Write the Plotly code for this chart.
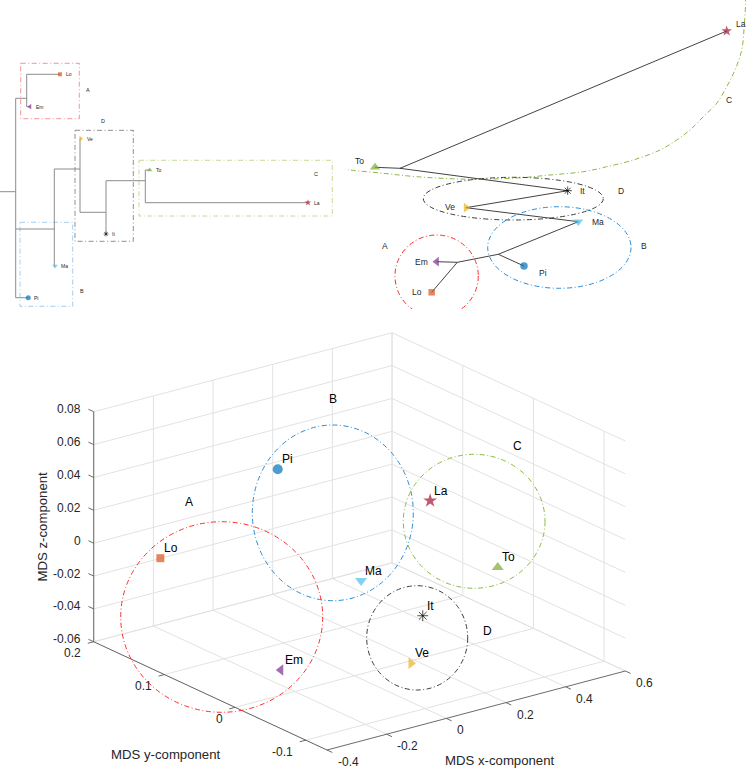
import math
import plotly.graph_objects as go

W, H = 746, 768
FONT = "Liberation Sans, Arial, Helvetica, sans-serif"
TXT = "#262626"

# ---------------- data ----------------
taxa = ['Lo', 'Em', 'Ve', 'It', 'To', 'La', 'Ma', 'Pi']
taxon_color = ['#D95319', '#7E2F8E', '#EDB120', '#000000', '#77AC30', '#A2142F', '#4DBEEE', '#0072BD']
taxon_symbol = ['square', 'triangle-left', 'triangle-right', 'asterisk-open',
                'triangle-up', 'star', 'triangle-down', 'circle']

# MDS coordinates (order of taxa)
mds_x = [-0.2951, -0.2470, -0.0473, 0.1105, 0.3619, 0.4907, 0.1407, -0.1385]
mds_y = [0.15, 0.00, -0.10, -0.05, -0.05, 0.10, 0.05, 0.05]
mds_z = [-0.0042, -0.0446, -0.0302, -0.0188, -0.0014, 0.0030, -0.0189, 0.0624]

x_ticks = [-0.4, -0.2, 0, 0.2, 0.4, 0.6]
x_tick_labels = ['-0.4', '-0.2', '0', '0.2', '0.4', '0.6']
y_ticks = [-0.1, 0, 0.1, 0.2]
y_tick_labels = ['-0.1', '0', '0.1', '0.2']
z_ticks = [-0.06, -0.04, -0.02, 0, 0.02, 0.04, 0.06, 0.08]
z_tick_labels = ['-0.06', '-0.04', '-0.02', '0', '0.02', '0.04', '0.06', '0.08']
x_lim = (-0.4, 0.6)
y_lim = (-0.13, 0.2)
z_lim = (-0.06, 0.08)

clusters = ['A', 'B', 'C', 'D']
cluster_color = ['rgb(255,45,45)', 'rgb(40,140,215)', 'rgb(140,185,70)', 'rgb(60,60,60)']
cluster_box_color = ['rgba(240,90,90,0.65)', 'rgba(90,165,225,0.55)', 'rgba(160,195,80,0.6)', 'rgba(70,70,70,0.6)']

# dendrogram (depth = branch position, row = leaf order position)
dendro_node = ['root', 'R', 'nA', 'Lo', 'Em', 'nBDC', 'Pi', 'nD', 'Ma', 'Ve', 'nIt', 'nC', 'It', 'To', 'La']
dendro_parent = [None, 'root', 'R', 'nA', 'nA', 'R', 'R', 'nBDC', 'nBDC', 'nD', 'nD', 'nIt', 'nIt', 'nC', 'nC']
dendro_depth = [0.0, 15.7, 26.7, 60.0, 30.0, 54.3, 28.3, 80.0, 55.0, 80.7, 106.0, 145.3, 106.0, 149.7, 308.0]
dendro_row = [191.7, 191.7, 98.3, 74.3, 106.7, 229.0, 297.7, 169.0, 266.0, 138.7, 212.3, 180.7, 234.0, 170.0, 202.7]
dendro_box = [(20.7, 79.3, 63.3, 118.7), (20.0, 72.7, 222.3, 306.3),
              (139.0, 332.3, 160.3, 216.0), (75.0, 133.3, 130.3, 241.3)]
dendro_box_label_xy = [(87.7, 90.0), (82.3, 290.7), (316.0, 174.0), (103.3, 120.7)]

# unrooted network
net_node = ['To', 'j1', 'La', 'It', 'Ve', 'Ma', 'j2', 'Pi', 'j3', 'Em', 'Lo']
net_x = [375.0, 400.0, 726.7, 567.7, 466.0, 578.3, 498.3, 524.0, 457.3, 436.7, 431.7]
net_y = [167.3, 168.3, 31.0, 190.7, 207.7, 221.7, 254.3, 266.0, 262.3, 261.7, 292.3]
net_edges = [('j1', 'To'), ('j1', 'La'), ('j1', 'It'), ('It', 'Ve'), ('Ve', 'Ma'),
             ('Ma', 'j2'), ('j2', 'Pi'), ('j2', 'j3'), ('j3', 'Em'), ('j3', 'Lo')]
net_ellipse = {'A': (395.0, 478.3, 235.0, 317.0), 'B': (487.7, 631.0, 206.7, 288.3),
               'D': (423.3, 603.3, 177.3, 220.0)}
net_arc_C_x = [340, 350, 383.3, 416.7, 466.7, 516.7, 550, 583.3, 606.7, 633.3, 660, 676.7,
               690, 703.3, 716.7, 726.7, 735, 741.7, 744.3, 745.5, 745.8]
net_arc_C_y = [168.5, 170, 173.3, 176.7, 179.2, 178, 175, 171.7, 166.7, 160, 150, 140,
               130, 116.7, 103.3, 86.7, 70, 50, 25, 5, -10]
net_label_xy = [(385.0, 246.0), (644.3, 245.7), (729.3, 100.0), (621.0, 191.0)]

# screen-space cluster rings of the MDS view
mds_ring = [(120.7, 322.7, 521.7, 712.3), (252.3, 413.3, 425.0, 600.7),
            (403.3, 545.0, 454.3, 588.3), (366.7, 467.7, 585.7, 690.0)]
mds_ring_label_xy = [(189.0, 501.7), (332.7, 399.3), (517.3, 446.0), (487.3, 630.7)]

# ---------------- view (orthographic, MATLAB-like) ----------------
AZ, EL = math.radians(-37.07), math.radians(20.52)
BOX = (373.9, 387.0, 245.6)
ORIGIN = (327.0, 750.0)
Xv = (BOX[0] * math.cos(AZ), -BOX[0] * math.sin(EL) * math.sin(AZ))
Yv = (BOX[1] * math.sin(AZ), BOX[1] * math.sin(EL) * math.cos(AZ))
Zv = (0.0, BOX[2] * math.cos(EL))


def proj(x, y, z):
    nx = (x - x_lim[0]) / (x_lim[1] - x_lim[0])
    ny = (y - y_lim[0]) / (y_lim[1] - y_lim[0])
    nz = (z - z_lim[0]) / (z_lim[1] - z_lim[0])
    u = ORIGIN[0] + nx * Xv[0] + ny * Yv[0] + nz * Zv[0]
    v = ORIGIN[1] - (nx * Xv[1] + ny * Yv[1] + nz * Zv[1])
    return u, v


def seg3(lst, a, b):
    p, q = proj(*a), proj(*b)
    lst[0] += [p[0], q[0], None]
    lst[1] += [p[1], q[1], None]


fig = go.Figure()
ann = []
shapes = []
DASH = "5px,2.5px,1px,2.5px"

# ================= Panel 1: dendrogram =================
idx = {n: i for i, n in enumerate(dendro_node)}
sx, sy = [], []
for i, n in enumerate(dendro_node):
    p = dendro_parent[i]
    if p is None:
        continue
    j = idx[p]
    sx += [dendro_depth[j], dendro_depth[i], None]
    sy += [dendro_row[i], dendro_row[i], None]
for j, n in enumerate(dendro_node):
    kids = [i for i, p in enumerate(dendro_parent) if p == n]
    if len(kids) > 1:
        rows = [dendro_row[i] for i in kids]
        sx += [dendro_depth[j], dendro_depth[j], None]
        sy += [min(rows), max(rows), None]
fig.add_trace(go.Scatter(x=sx, y=sy, mode='lines', line=dict(color='#8c8c8c', width=1),
                         xaxis='x', yaxis='y', hoverinfo='skip', showlegend=False))
leaf = [idx[t] for t in taxa]
fig.add_trace(go.Scatter(
    x=[dendro_depth[i] for i in leaf], y=[dendro_row[i] for i in leaf], mode='markers',
    marker=dict(symbol=taxon_symbol, color=taxon_color, size=[4, 5, 5, 4, 5, 5, 5, 5],
                line=dict(color=taxon_color, width=[0, 0, 0, 0.8, 0, 0, 0, 0])),
    xaxis='x', yaxis='y', hoverinfo='skip', showlegend=False))
for k, t in enumerate(taxa):
    i = idx[t]
    ann.append(dict(x=dendro_depth[i], y=dendro_row[i], xref='x', yref='y', text=t,
                    showarrow=False, xanchor='left', yanchor='middle', xshift=4,
                    font=dict(size=5, color=TXT, family=FONT)))
for k, c in enumerate(clusters):
    x0, x1, y0, y1 = dendro_box[k]
    shapes.append(dict(type='rect', xref='x', yref='y', x0=x0, x1=x1, y0=y0, y1=y1,
                       line=dict(color=cluster_box_color[k], width=1, dash=DASH), layer='below'))
    lx, ly = dendro_box_label_xy[k]
    ann.append(dict(x=lx, y=ly, xref='x', yref='y', text=c, showarrow=False,
                    font=dict(size=5.5, color=TXT, family=FONT)))

# ================= Panel 2: unrooted network =================
nid = {n: i for i, n in enumerate(net_node)}
ex, ey = [], []
for a, b in net_edges:
    ex += [net_x[nid[a]], net_x[nid[b]], None]
    ey += [net_y[nid[a]], net_y[nid[b]], None]
for k, c in enumerate(clusters):
    if c in net_ellipse:
        x0, x1, y0, y1 = net_ellipse[c]
        shapes.append(dict(type='circle', xref='x2', yref='y2', x0=x0, x1=x1, y0=y0, y1=y1,
                           line=dict(color=cluster_color[k], width=1, dash=DASH)))
fig.add_trace(go.Scatter(x=net_arc_C_x, y=net_arc_C_y, mode='lines',
                         line=dict(color=cluster_color[2], width=1, dash=DASH, shape='spline'),
                         xaxis='x2', yaxis='y2', hoverinfo='skip', showlegend=False))
fig.add_trace(go.Scatter(x=ex, y=ey, mode='lines', line=dict(color='#2e2e2e', width=0.9),
                         xaxis='x2', yaxis='y2', hoverinfo='skip', showlegend=False))
fig.add_trace(go.Scatter(
    x=[net_x[nid[t]] for t in taxa], y=[net_y[nid[t]] for t in taxa], mode='markers',
    marker=dict(symbol=taxon_symbol, color=taxon_color, size=[6.5, 8.5, 8.5, 7, 9, 8, 8.5, 7.5],
                line=dict(color=taxon_color, width=[0, 0, 0, 1, 0, 0, 0, 0])),
    xaxis='x2', yaxis='y2', hoverinfo='skip', showlegend=False, cliponaxis=False))
net_lab = {'La': ('left', 7, 7), 'To': ('right', -9, 6.6), 'It': ('left', 10, 0),
           'Ve': ('right', -9, 1), 'Ma': ('left', 12, 0), 'Em': ('right', -6.5, 0),
           'Lo': ('right', -7.5, 0), 'Pi': ('left', 13, -7.3)}
for t in taxa:
    xa, xs, ys = net_lab[t]
    ann.append(dict(x=net_x[nid[t]], y=net_y[nid[t]], xref='x2', yref='y2', text=t,
                    showarrow=False, xanchor=xa, yanchor='middle', xshift=xs, yshift=ys,
                    font=dict(size=8.5, color=TXT, family=FONT)))
for k, c in enumerate(clusters):
    lx, ly = net_label_xy[k]
    ann.append(dict(x=lx, y=ly, xref='x2', yref='y2', text=c, showarrow=False,
                    font=dict(size=8.5, color=TXT, family=FONT)))

# ================= Panel 3: MDS 3-D view =================
grid = [[], []]
for xt in x_ticks:
    seg3(grid, (xt, y_lim[1], z_lim[0]), (xt, y_lim[1], z_lim[1]))   # back wall
    seg3(grid, (xt, y_lim[0], z_lim[0]), (xt, y_lim[1], z_lim[0]))   # floor
for yt in y_ticks:
    seg3(grid, (x_lim[1], yt, z_lim[0]), (x_lim[1], yt, z_lim[1]))   # side wall
    seg3(grid, (x_lim[0], yt, z_lim[0]), (x_lim[1], yt, z_lim[0]))   # floor
for zt in z_ticks:
    seg3(grid, (x_lim[0], y_lim[1], zt), (x_lim[1], y_lim[1], zt))   # back wall
    seg3(grid, (x_lim[1], y_lim[0], zt), (x_lim[1], y_lim[1], zt))   # side wall
fig.add_trace(go.Scatter(x=grid[0], y=grid[1], mode='lines', line=dict(color='#e2e2e2', width=1),
                         xaxis='x3', yaxis='y3', hoverinfo='skip', showlegend=False))

axl = [[], []]
seg3(axl, (x_lim[0], y_lim[0], z_lim[0]), (x_lim[1], y_lim[0], z_lim[0]))
seg3(axl, (x_lim[0], y_lim[0], z_lim[0]), (x_lim[0], y_lim[1], z_lim[0]))
seg3(axl, (x_lim[0], y_lim[1], z_lim[0]), (x_lim[0], y_lim[1], z_lim[1]))
tx = 0.02
ty = 0.0075
for xt in x_ticks:
    seg3(axl, (xt, y_lim[0], z_lim[0]), (xt, y_lim[0] - ty, z_lim[0]))
for yt in y_ticks:
    seg3(axl, (x_lim[0], yt, z_lim[0]), (x_lim[0] - tx, yt, z_lim[0]))
for zt in z_ticks:
    seg3(axl, (x_lim[0], y_lim[1], zt), (x_lim[0], y_lim[1] + ty, zt))
fig.add_trace(go.Scatter(x=axl[0], y=axl[1], mode='lines', line=dict(color='#5a5a5a', width=0.9),
                         xaxis='x3', yaxis='y3', hoverinfo='skip', showlegend=False))

for k, c in enumerate(clusters):
    x0, x1, y0, y1 = mds_ring[k]
    shapes.append(dict(type='circle', xref='x3', yref='y3', x0=x0, x1=x1, y0=y0, y1=y1,
                       line=dict(color=cluster_color[k], width=1, dash=DASH)))
    lx, ly = mds_ring_label_xy[k]
    ann.append(dict(x=lx, y=ly, xref='x3', yref='y3', text=c, showarrow=False,
                    font=dict(size=12, color='#000000', family=FONT)))

pts = [proj(mds_x[i], mds_y[i], mds_z[i]) for i in range(len(taxa))]
fig.add_trace(go.Scatter(
    x=[p[0] for p in pts], y=[p[1] for p in pts], mode='markers',
    marker=dict(symbol=taxon_symbol, color=taxon_color, size=[8, 10, 10, 9, 10.5, 10.5, 10.5, 10],
                line=dict(color=taxon_color, width=[0, 0, 0, 1, 0, 0, 0, 0])),
    xaxis='x3', yaxis='y3', hoverinfo='skip', showlegend=False, cliponaxis=False))
for k, t in enumerate(taxa):
    ann.append(dict(x=pts[k][0], y=pts[k][1], xref='x3', yref='y3', text=t, showarrow=False,
                    xanchor='left', yanchor='middle', xshift=2, yshift=10,
                    font=dict(size=12, color='#000000', family=FONT)))

tick_font = dict(size=12, color=TXT, family=FONT)
for xt, lab in zip(x_ticks, x_tick_labels):
    px, py = proj(xt, y_lim[0], z_lim[0])
    ann.append(dict(x=px, y=py, xref='x3', yref='y3', text=lab, showarrow=False,
                    xanchor='left', yanchor='middle', xshift=8.5, yshift=-12, font=tick_font))
for yt, lab in zip(y_ticks, y_tick_labels):
    px, py = proj(x_lim[0], yt, z_lim[0])
    ann.append(dict(x=px, y=py, xref='x3', yref='y3', text=lab, showarrow=False,
                    xanchor='right', yanchor='middle', xshift=-10.5, yshift=-11.7, font=tick_font))
for zt, lab in zip(z_ticks, z_tick_labels):
    px, py = proj(x_lim[0], y_lim[1], zt)
    ann.append(dict(x=px, y=py, xref='x3', yref='y3', text=lab, showarrow=False,
                    xanchor='right', yanchor='middle', xshift=-10.5, yshift=2.5, font=tick_font))

title_font = dict(size=13.2, color=TXT, family=FONT)
mx = proj(sum(x_lim) / 2, y_lim[0], z_lim[0])
my = proj(x_lim[0], sum(y_lim) / 2, z_lim[0])
mz = proj(x_lim[0], y_lim[1], sum(z_lim) / 2)
ann.append(dict(x=mx[0], y=mx[1], xref='x3', yref='y3', text='MDS x-component', showarrow=False,
                xshift=24, yshift=-50, font=title_font))
ann.append(dict(x=my[0], y=my[1], xref='x3', yref='y3', text='MDS y-component', showarrow=False,
                xshift=-44.6, yshift=-58.4, font=title_font))
ann.append(dict(x=mz[0], y=mz[1], xref='x3', yref='y3', text='MDS z-component', showarrow=False,
                textangle=-90, xshift=-51, yshift=0, font=title_font))


def hidden(domain, rng):
    return dict(domain=domain, range=rng, visible=False, showgrid=False, zeroline=False,
                fixedrange=True)


fig.update_layout(
    width=W, height=H, margin=dict(l=0, r=0, t=0, b=0),
    paper_bgcolor='white', plot_bgcolor='rgba(0,0,0,0)',
    showlegend=False, hovermode=False,
    font=dict(family=FONT, color=TXT),
    xaxis=hidden([0, 346 / W], [0, 346]),
    yaxis=hidden([1 - 330 / H, 1 - 40 / H], [330, 40]),
    xaxis2=hidden([348 / W, 1], [348, 746]),
    yaxis2=hidden([1 - 309 / H, 1], [309, 0]),
    xaxis3=hidden([0, 1], [0, 746]),
    yaxis3=hidden([0, 1 - 320 / H], [768, 320]),
    annotations=ann, shapes=shapes,
)

fig.write_html("out.html", config={'displayModeBar': False},
               post_script="document.body.style.margin='0';document.body.style.overflow='hidden';")
